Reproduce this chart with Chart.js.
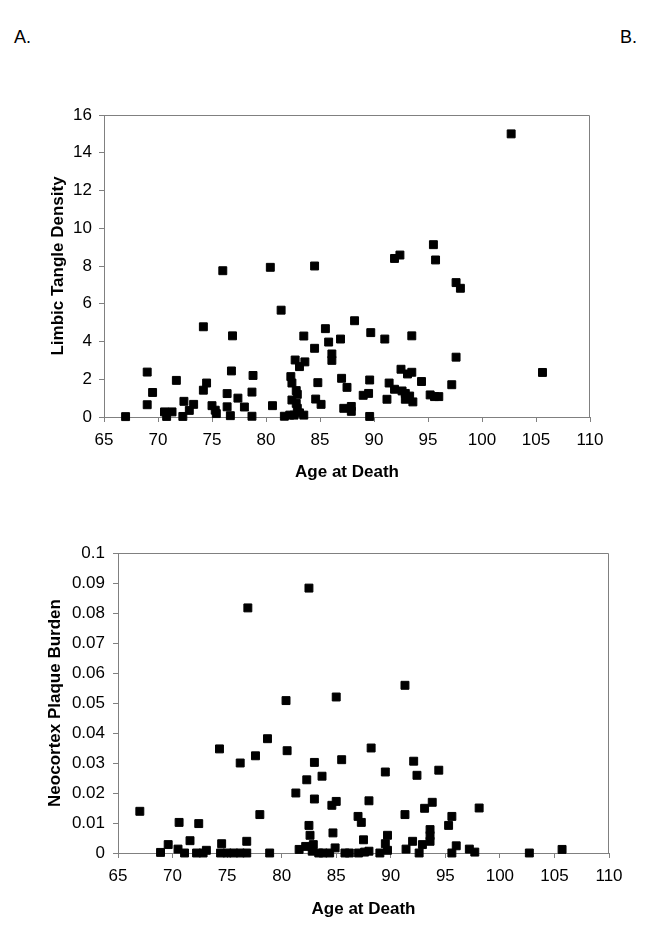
<!DOCTYPE html>
<html><head><meta charset="utf-8">
<script src="https://cdn.jsdelivr.net/npm/chart.js@4"></script>
<style>
body{margin:0;background:#fff;width:660px;height:935px;position:relative;overflow:hidden;font-family:"Liberation Sans",Arial,sans-serif;}
.lab{position:absolute;font-size:18px;color:#000;line-height:20px;}
#wrapA{position:absolute;left:0;top:0;width:660px;height:490px;}
#wrapB{position:absolute;left:0;top:480px;width:660px;height:455px;}
canvas{display:block;}
</style></head><body>
<div class="lab" style="left:14px;top:27px">A.</div>
<div class="lab" style="left:620px;top:27px">B.</div>
<div id="wrapA"><canvas id="c1" width="660" height="490"></canvas></div>
<div id="wrapB"><canvas id="c2" width="660" height="455"></canvas></div>
<script>
// ---- data ----
const tangleAge = [67.0,69.0,69.0,69.5,70.6,70.8,71.3,71.7,72.3,72.4,72.9,73.3,74.2,74.2,74.5,75.0,75.3,75.4,76.0,76.4,76.4,76.7,76.8,76.9,77.4,78.0,78.7,78.8,78.7,80.4,80.6,81.4,81.7,82.3,82.4,82.7,83.1,83.6,83.5,82.8,82.9,82.4,82.8,82.9,83.1,82.6,83.5,82.2,84.5,84.5,84.8,84.6,85.1,85.5,85.8,86.1,86.1,86.9,87.0,87.5,88.2,87.2,87.9,87.9,89.7,89.6,89.0,89.5,89.6,91.0,91.4,91.2,91.9,91.9,92.4,92.5,92.6,92.9,92.9,93.1,93.3,93.5,93.5,93.6,94.4,95.2,95.5,95.6,95.7,96.0,97.2,97.6,97.6,98.0,102.7,105.6];
const tangleDensity = [0.02,2.38,0.65,1.3,0.27,0.03,0.27,1.94,0.03,0.83,0.35,0.67,4.78,1.42,1.8,0.6,0.36,0.18,7.75,1.24,0.54,0.07,2.44,4.3,1.0,0.53,1.32,2.2,0.04,7.93,0.6,5.66,0.04,2.14,1.8,3.02,2.67,2.92,4.29,1.4,1.2,0.9,0.72,0.46,0.22,0.1,0.1,0.1,8.0,3.64,1.82,0.95,0.67,4.68,3.97,3.34,3.0,4.13,2.05,1.57,5.1,0.46,0.56,0.3,4.47,1.96,1.15,1.25,0.03,4.13,1.8,0.94,1.47,8.4,8.58,2.53,1.38,1.25,0.94,2.28,1.11,2.37,4.3,0.8,1.88,1.17,9.13,1.08,8.32,1.08,1.71,3.17,7.12,6.82,15.0,2.36];
const plaqueAge = [67.0,68.9,69.6,70.5,70.6,71.1,71.6,72.2,72.4,72.8,73.1,74.3,74.4,74.5,75.0,75.6,76.2,76.2,76.8,76.8,76.9,77.6,78.0,78.7,78.9,80.4,80.5,81.3,81.6,82.2,82.3,82.5,82.5,82.6,82.8,82.9,83.0,83.0,83.4,83.7,83.8,84.4,84.6,84.7,84.9,85.0,85.0,85.5,85.8,86.2,87.0,87.05,87.3,87.5,87.6,88.0,88.0,88.2,89.0,89.5,89.5,89.7,89.7,91.3,91.3,91.4,92.0,92.1,92.4,92.6,92.9,93.1,93.6,93.6,93.6,93.8,94.4,95.3,95.6,95.6,96.0,97.2,97.7,98.1,102.7,105.7];
const plaqueBurden = [0.0139,0.0002,0.0028,0.0013,0.0102,0.0,0.0041,0.0,0.0098,0.0,0.0009,0.0347,0.0,0.0031,0.0,0.0,0.0,0.030,0.0,0.0039,0.0817,0.0324,0.0128,0.0381,0.0,0.0508,0.0341,0.020,0.0012,0.0022,0.0244,0.0883,0.0092,0.0059,0.0006,0.0028,0.0302,0.018,0.0,0.0256,0.0,0.0,0.0159,0.0067,0.0017,0.0172,0.052,0.0311,0.0,0.0,0.0122,0.0,0.0102,0.0044,0.0003,0.0174,0.0006,0.035,0.0,0.027,0.0031,0.0059,0.0009,0.0559,0.0128,0.0013,0.0039,0.0306,0.0259,0.0,0.0028,0.0149,0.0078,0.0058,0.0039,0.0169,0.0276,0.0092,0.0122,0.0,0.0024,0.0013,0.0003,0.015,0.0,0.0012];
const ageTicks = [65,70,75,80,85,90,95,100,105,110];
const tangleTicks = [0,2,4,6,8,10,12,14,16];
const plaqueTicks = [0,0.01,0.02,0.03,0.04,0.05,0.06,0.07,0.08,0.09,0.1];

const FAM = '"Liberation Sans", Arial, sans-serif';
Chart.defaults.font.family = FAM;

const frame = {
  id:'frame',
  beforeDatasetsDraw(chart){
    const a = chart.chartArea, ctx = chart.ctx;
    ctx.save();
    ctx.strokeStyle = '#808080';
    ctx.lineWidth = 1;
    ctx.beginPath();
    ctx.moveTo(Math.round(a.left)+0.5, Math.round(a.top)+0.5);
    ctx.lineTo(Math.round(a.right)-0.5, Math.round(a.top)+0.5);
    ctx.lineTo(Math.round(a.right)-0.5, Math.round(a.bottom));
    ctx.stroke();
    ctx.restore();
  }
};

function makeChart(id, xs, ys, yTicks, yTitle, L){
  const pts = xs.map((x,i)=>({x:x, y:ys[i]}));
  return new Chart(document.getElementById(id), {
    type:'scatter',
    data:{datasets:[{data:pts, backgroundColor:'#000', borderColor:'#000', borderWidth:1,
      pointStyle:'rect', pointRadius:5.6, pointHoverRadius:5.6, clip:false}]},
    options:{
      responsive:false, animation:false, events:[],
      layout:{padding:{top:L.top, right:L.right, left:0, bottom:0}},
      plugins:{legend:{display:false}, tooltip:{enabled:false}},
      scales:{
        x:{type:'linear', min:ageTicks[0], max:ageTicks[ageTicks.length-1],
          afterBuildTicks:s=>{s.ticks = ageTicks.map(v=>({value:v}));},
          afterFit:s=>{s.height = L.xh;},
          grid:{drawOnChartArea:false, drawTicks:true, tickLength:5, color:'#808080'},
          border:{display:true, color:'#808080', width:1},
          ticks:{color:'#000', font:{size:17}, padding:8, maxRotation:0, autoSkip:false},
          title:{display:true, text:'Age at Death', color:'#000', font:{size:17, weight:'bold'}, padding:{top:0, bottom:L.xtp}}
        },
        y:{type:'linear', min:yTicks[0], max:yTicks[yTicks.length-1],
          afterBuildTicks:s=>{s.ticks = yTicks.map(v=>({value:v}));},
          afterFit:s=>{s.width = L.yw;},
          grid:{drawOnChartArea:false, drawTicks:true, tickLength:5, color:'#808080'},
          border:{display:true, color:'#808080', width:1},
          ticks:{color:'#000', font:{size:17}, padding:L.ytp, autoSkip:false, callback:v=>String(v)},
          title:{display:true, text:yTitle, color:'#000', font:{size:17, weight:'bold'}, padding:{top:L.ttp, bottom:0}}
        }
      }
    },
    plugins:[frame]
  });
}

makeChart('c1', tangleAge, tangleDensity, tangleTicks, 'Limbic Tangle Density',
  {top:115, right:70, xh:73, yw:104, xtp:7.8, ytp:7, ttp:47.8});
makeChart('c2', plaqueAge, plaqueBurden, plaqueTicks, 'Neocortex Plaque Burden',
  {top:73, right:51, xh:82, yw:118, xtp:15.8, ytp:8, ttp:44.8});
</script>
</body></html>
